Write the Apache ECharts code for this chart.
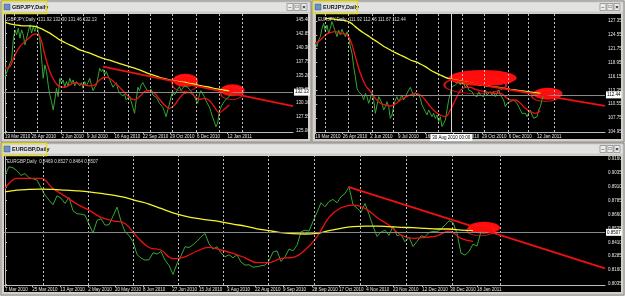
<!DOCTYPE html>
<html><head><meta charset="utf-8">
<script src="https://cdn.jsdelivr.net/npm/echarts@6/dist/echarts.min.js"></script>
<style>html,body{margin:0;padding:0;background:#d4d0c8;}#c{width:625px;height:296px;}</style>
</head><body><div id="c"></div>
<script>
// ===== GBPJPY (sample index; MAs every 3 samples) =====
const gjClose = [134.99,135.29,136.52,137.44,138.05,141.73,143.56,142.65,143.87,142.03,
143.56,142.65,140.81,142.03,143.26,144.48,142.95,144.18,143.26,144.48,
143.26,141.73,138.36,134.68,137.13,135.91,133.46,131.62,130.39,128.86,
130.70,132.84,131.31,134.68,133.76,134.37,133.03,134.07,133.27,134.68,
133.76,134.37,133.27,134.07,133.64,133.27,133.88,132.84,134.07,133.27,
133.88,134.68,133.46,132.41,133.03,133.46,134.86,136.52,135.91,136.34,
135.29,135.91,135.11,134.50,133.76,133.03,133.46,133.88,132.66,131.92,
132.23,131.43,131.80,130.70,131.00,131.43,130.39,129.35,128.25,130.70,
133.03,132.41,133.46,133.88,133.27,133.03,132.23,131.92,132.66,131.62,
131.80,131.19,130.70,130.09,130.39,129.35,128.55,127.63,128.86,129.96,
131.31,132.23,131.62,132.05,132.66,133.15,132.41,132.84,133.27,133.46,
133.03,132.66,132.41,131.92,131.31,131.00,130.09,131.62,132.41,132.17,
131.31,130.58,129.96,129.47,128.55,127.51,126.72,125.80,126.41,128.55,
129.35,129.96,130.39,130.82,130.70,131.31,131.62,132.13];
const gjFast = [136.52,136.83,138.97,140.50,141.42,142.22,142.83,142.34,138.97,135.91,
134.07,133.15,133.03,133.46,133.88,133.64,133.46,133.27,133.46,134.37,
134.86,134.68,133.88,133.03,132.05,131.19,130.70,131.31,132.23,132.41,
131.92,130.82,129.78,129.17,129.78,131.00,131.92,132.05,131.43,130.82,
131.00,130.58,129.47,128.37,128.98,129.78];
const gjSlow = [144.91,144.67,144.48,144.36,144.30,144.30,144.18,143.87,143.44,142.95,
142.34,141.73,141.24,140.81,140.38,139.89,139.58,139.28,138.91,138.54,
138.23,137.99,137.68,137.38,137.07,136.83,136.52,136.21,135.84,135.48,
135.17,134.86,134.62,134.37,134.19,134.07,133.95,133.76,133.58,133.39,
133.21,133.03,132.84,132.66,132.48,132.35];
const gjTrendX = [59, 173.4], gjTrendY = [136.83, 129.58];
const gjEllFill = [[108.6, 134.30], [137, 132.50]];
const gjEllLine = [[108.2, 133.70], [136.6, 131.95]];
const gjDates = ['19 Mar 2010','26 Apr 2010','2 Jun 2010','9 Jul 2010','16 Aug 2010','22 Sep 2010','29 Oct 2010','6 Dec 2010','12 Jan 2011'];
const gjDatePos = [0, 16, 34, 49.4, 66, 83, 99.4, 115.6, 134];
const gjGridPos = [5.4, 19.6, 33.6, 47, 60, 74, 87.4, 100.6, 115, 129, 143];
const gjTicks = [125.00,127.55,130.10,132.65,135.20,137.75,140.30,142.85,145.40];

// ===== EURJPY =====
const ejClose = [122.84,122.17,123.52,124.19,125.87,126.88,125.20,126.54,124.86,125.87,
127.22,126.21,125.20,124.19,125.53,124.53,125.67,124.86,124.19,125.20,
124.19,122.17,120.83,118.13,116.12,113.76,113.09,113.43,112.42,111.41,
112.75,112.08,110.74,111.74,113.09,111.41,108.72,110.40,112.08,111.41,
110.74,109.39,110.06,111.07,110.06,107.71,108.38,110.06,111.41,112.08,
111.07,111.74,112.42,111.41,112.08,112.42,113.43,113.96,113.09,112.08,
112.89,113.29,112.42,111.74,110.40,109.73,109.05,108.38,109.39,108.72,
108.04,108.72,107.71,108.38,107.04,108.04,106.03,106.70,107.37,109.39,
111.41,112.75,114.10,113.76,114.44,114.77,115.11,114.44,115.44,114.77,
113.96,114.44,113.43,113.76,113.09,112.42,112.75,112.08,113.09,112.42,
112.75,112.08,113.43,112.42,112.75,113.09,112.42,113.09,112.08,112.75,
113.43,112.42,112.75,111.41,110.06,110.74,110.40,111.07,110.74,111.41,
111.74,110.74,110.06,109.39,108.72,108.38,108.72,108.04,108.38,109.39,
108.38,107.71,107.37,108.04,109.39,110.06,111.41,112.44];
const ejFast = [122.84,123.52,124.53,125.00,125.20,124.86,124.73,123.52,120.15,116.79,
114.44,113.09,111.74,110.74,110.40,110.20,110.60,111.41,111.95,112.42,
112.75,112.42,111.41,110.06,109.05,108.38,108.04,109.39,111.41,113.29,
113.96,113.96,113.56,113.29,113.09,112.89,112.75,112.75,112.08,111.41,
111.41,110.74,109.73,109.05,108.72,109.25];
const ejSlowStart = 6;
const ejSlow = [127.89,127.82,127.69,127.55,127.42,127.01,126.21,125.40,124.73,124.05,
123.38,122.71,122.04,121.50,120.96,120.49,120.02,119.48,119.14,118.67,
118.13,117.46,116.92,116.45,115.98,115.65,115.44,115.24,115.04,114.84,
114.64,114.44,114.30,114.17,114.03,113.90,113.70,113.56,113.43,113.29,
113.16,113.02,112.89,112.75];
const ejTrendX = [80, 173.8], ejTrendY = [115.58, 110.20];
const ejEllFill = [[100.4, 115.85], [139.6, 112.69]];
const ejEllLine = [[96, 114.44], [138, 112.22]];
const ejDates = ['19 Mar 2010','26 Apr 2010','2 Jun 2010','9 Jul 2010','16 Aug 2010','22 Sep 2010','29 Oct 2010','6 Dec 2010','12 Jan 2011'];
const ejDatePos = [0, 16.4, 33, 49.6, 66, 83, 100, 116, 133];
const ejGridPos = [6, 20, 34, 47, 60.4, 74, 88, 101.6, 115.6, 128, 143.4];
const ejCross = 81.6, ejCrossText = '30 Aug 2010 00:00';
const ejTicks = [104.95,107.75,110.55,113.35,116.15,118.95,121.75,124.55,127.35];

// ===== EURGBP =====
const egClose = [0.9015,0.9090,0.9081,0.9054,0.9012,0.9030,0.8991,0.8982,0.8970,0.8901,
0.8835,0.8790,0.8748,0.8829,0.8808,0.8760,0.8814,0.8694,0.8667,0.8664,
0.8655,0.8574,0.8493,0.8607,0.8622,0.8565,0.8568,0.8646,0.8727,0.8601,
0.8505,0.8472,0.8415,0.8301,0.8268,0.8250,0.8253,0.8316,0.8304,0.8328,
0.8250,0.8202,0.8121,0.8217,0.8289,0.8370,0.8364,0.8388,0.8421,0.8457,
0.8490,0.8397,0.8349,0.8370,0.8316,0.8280,0.8298,0.8271,0.8298,0.8232,
0.8205,0.8208,0.8187,0.8190,0.8199,0.8205,0.8244,0.8322,0.8334,0.8238,
0.8280,0.8349,0.8334,0.8382,0.8505,0.8520,0.8511,0.8598,0.8679,
0.8766,0.8730,0.8778,0.8796,0.8766,0.8820,0.8850,0.8910,0.8748,0.8718,
0.8682,0.8760,0.8661,0.8556,0.8463,0.8502,0.8520,0.8472,0.8556,0.8469,
0.8481,0.8415,0.8457,0.8373,0.8418,0.8469,0.8460,0.8499,0.8508,0.8505,
0.8532,0.8565,0.8604,0.8589,0.8490,0.8313,0.8295,0.8328,0.8394,0.8376,
0.8507];
const egFast = [0.8895,0.8985,0.8985,0.8985,0.8895,0.8826,0.8754,0.8700,0.8634,0.8604,
0.8580,0.8460,0.8364,0.8341,0.8263,0.8280,0.8332,0.8364,0.8341,0.8311,
0.8271,0.8227,0.8227,0.8266,0.8275,0.8341,0.8460,
0.8634,0.8721,0.8745,0.8715,0.8634,0.8563,0.8476,0.8446,0.8455,0.8469,0.8511,0.8446,0.8418];
const egSlow = [0.8865,0.8880,0.8886,0.8889,0.8886,0.8880,0.8874,0.8865,0.8850,0.8835,
0.8814,0.8784,0.8754,0.8715,0.8676,0.8646,0.8625,0.8610,0.8595,0.8574,
0.8556,0.8532,0.8515,0.8497,0.8488,0.8485,0.8490,
0.8515,0.8536,0.8551,0.8556,0.8556,0.8551,0.8545,0.8542,0.8536,0.8530,0.8530,0.8520,0.8515];
const egTrendX = [85.8, 150], egTrendY = [0.8910, 0.8176];
const egEllFill = [[119.75, 0.8541]];
const egEllLine = [[118.9, 0.8517]];
const egDates = ['7 Mar 2010','25 Mar 2010','13 Apr 2010','2 May 2010','20 May 2010','8 Jun 2010','27 Jun 2010','15 Jul 2010','3 Aug 2010','22 Aug 2010','9 Sep 2010','28 Sep 2010','17 Oct 2010','4 Nov 2010','23 Nov 2010','12 Dec 2010','30 Dec 2010','18 Jan 2011'];
const egDatePos = [0, 6.8, 13.8, 20.8, 27.5, 34.5, 41.8, 48.5, 55.5, 62.5, 69.5, 76.8, 83.5, 90.3, 97, 104.3, 111.3, 118];
const egGridPos = [9.5, 20.8, 32, 43.3, 54.5, 65.8, 77.3, 88.8, 100.3, 111.8, 123.8];
const egTicks = [0.8035,0.8160,0.8285,0.8410,0.8535,0.8660,0.8785,0.8910,0.9035,0.9160];

// ===== build =====
const FONT = 'Liberation Sans';
const C_GREEN = '#33a833', C_RED = '#f01010', C_YEL = '#f4f42a', C_AX = '#bdbdbd';

const panels = [
  {close: gjClose, fast: gjFast, fastStart: 0, slow: gjSlow, slowStart: 0, tx: gjTrendX, ty: gjTrendY,
   ef: gjEllFill, el: gjEllLine, efs: [[25,13],[24,12]], els: [[25,16],[22,13]],
   dates: gjDates, datePos: gjDatePos, grid: gjGridPos, ticks: gjTicks, dec: 2,
   xmin: -0.6, xmax: 173.4, ymin: 124.82, ymax: 146.65,
   g: {left: 4, top: 13, width: 289, height: 119}},
  {close: ejClose, fast: ejFast, fastStart: 0, slow: ejSlow, slowStart: ejSlowStart, tx: ejTrendX, ty: ejTrendY,
   ef: ejEllFill, el: ejEllLine, efs: [[68,16],[29,12]], els: [[62,17],[27,11]],
   dates: ejDates, datePos: ejDatePos, grid: ejGridPos, ticks: ejTicks, dec: 2, cross: ejCross, crossText: ejCrossText,
   xmin: -0.2, xmax: 173.8, ymin: 104.95, ymax: 128.96,
   g: {left: 315, top: 13, width: 290, height: 119}},
  {close: egClose, fast: egFast, fastStart: 0, slow: egSlow, slowStart: 0, tx: egTrendX, ty: egTrendY,
   ef: egEllFill, el: egEllLine, efs: [[32,12]], els: [[27,11]],
   dates: egDates, datePos: egDatePos, grid: egGridPos, ticks: egTicks, dec: 4,
   xmin: -0.25, xmax: 150, ymin: 0.8026, ymax: 0.9196,
   g: {left: 4, top: 155, width: 601, height: 130}}
];

const grids = [], xAxes = [], yAxes = [], series = [];
panels.forEach((p, k) => {
  grids.push(Object.assign({containLabel: false}, p.g));
  xAxes.push({type: 'value', gridIndex: k, min: p.xmin, max: p.xmax,
    axisLine: {show: true, lineStyle: {color: C_AX, width: 1}},
    axisTick: {show: true, customValues: p.datePos, length: 2, lineStyle: {color: C_AX}},
    axisLabel: {show: true, customValues: p.datePos, align: 'left', margin: 2, fontSize: 4.5, fontFamily: FONT, color: '#e6e6e6',
      formatter: v => { const i = p.datePos.findIndex(d => Math.abs(d - v) < 1e-6); return i >= 0 ? p.dates[i] : ''; }},
    splitLine: {show: false}});
  yAxes.push({type: 'value', gridIndex: k, position: 'right', min: p.ymin, max: p.ymax, scale: true,
    axisLine: {show: true, lineStyle: {color: C_AX, width: 1}},
    axisTick: {show: true, customValues: p.ticks, length: 2, inside: false, lineStyle: {color: C_AX}},
    axisLabel: {show: true, customValues: p.ticks, margin: 3, fontSize: 4.5, fontFamily: FONT, color: '#e6e6e6',
      formatter: v => v.toFixed(p.dec)},
    splitLine: {show: false}});
  const last = p.close[p.close.length - 1];
  const mlData = p.grid.map(x => ({xAxis: x, lineStyle: {type: [2, 2], color: '#d4d4d4', width: 1, opacity: 0.9}, label: {show: false}}));
  mlData.push({yAxis: last, lineStyle: {type: 'solid', color: '#8a8a8a', width: 1},
    label: {show: true, position: 'end', distance: 1, formatter: last.toFixed(p.dec), backgroundColor: '#ffffff', color: '#000',
      fontSize: 4.5, fontFamily: FONT, padding: [1, 1]}});
  if (p.cross !== undefined) {
    mlData.push({xAxis: p.cross, lineStyle: {type: 'solid', color: '#d8d8d8', width: 1},
      label: {show: true, position: 'start', distance: 2, formatter: p.crossText, backgroundColor: '#ffffff', color: '#000',
        fontSize: 4.5, fontFamily: FONT, padding: [1, 2]}});
  }
  const common = {xAxisIndex: k, yAxisIndex: k, animation: false, silent: true};
  // vertical dotted separators drawn by their own empty series so they sit beneath the price lines
  series.push(Object.assign({type: 'line', z: 0, symbol: 'none', data: [],
    markLine: {symbol: 'none', silent: true, animation: false, data: mlData}}, common));
  // ellipses (under lines)
  series.push(Object.assign({type: 'scatter', z: 1, symbol: 'circle',
    data: p.ef.map((d, i) => ({value: d, symbolSize: p.efs[i]})),
    itemStyle: {color: '#ff0d0d', opacity: 1}}, common));
  series.push(Object.assign({type: 'scatter', z: 1, symbol: 'circle',
    data: p.el.map((d, i) => ({value: d, symbolSize: p.els[i]})),
    itemStyle: {color: 'rgba(0,0,0,0)', borderColor: '#ff1a1a', borderWidth: 1.2}}, common));
  series.push(Object.assign({type: 'line', z: 3, symbol: 'none', data: p.close.map((v, i) => [i, v]),
    lineStyle: {color: C_GREEN, width: 1}}, common));
  series.push(Object.assign({type: 'line', z: 4, symbol: 'none', smooth: 0.4, data: p.fast.map((v, i) => [p.fastStart + 3 * i, v]),
    lineStyle: {color: C_RED, width: 1.3}}, common));
  series.push(Object.assign({type: 'line', z: 4, symbol: 'none', smooth: 0.4, data: p.slow.map((v, i) => [p.slowStart + 3 * i, v]),
    lineStyle: {color: C_YEL, width: 1.3}}, common));
  series.push(Object.assign({type: 'line', z: 5, symbol: 'none', data: p.tx.map((x, i) => [x, p.ty[i]]),
    lineStyle: {color: C_RED, width: 1.8}}, common));
});

// window chrome
function win(x, y, w, h, title, header) {
  const els = [];
  els.push({type: 'rect', shape: {x: x, y: y, width: w, height: h}, style: {fill: '#d4d0c8', stroke: '#8c8c8c', lineWidth: 1}, z: -10});
  els.push({type: 'rect', shape: {x: x + 1, y: y + 1, width: w - 2, height: 10}, style: {fill: '#e2e2e2', stroke: '#b8b8b8', lineWidth: 0.5}, z: -9});
  els.push({type: 'rect', shape: {x: x + 3, y: y + 13, width: w - 6, height: h - 16}, style: {fill: '#000'}, z: -9});
  els.push({type: 'rect', shape: {x: x + 3, y: y + 3, width: 6, height: 6}, style: {fill: '#6d8fc7', stroke: '#2d4f87', lineWidth: 0.5}, z: -8});
  els.push({type: 'text', style: {text: title, x: x + 11, y: y + 6, fill: '#101010', font: 'bold 5.5px "' + FONT + '"', verticalAlign: 'middle'}, z: -8});
  els.push({type: 'rect', shape: {x: x + 1.5, y: y + 0.5, width: 44, height: 12}, style: {fill: 'none', stroke: '#e6df1c', lineWidth: 1.3}, z: -7});
  [0, 1, 2].forEach(i => {
    els.push({type: 'rect', shape: {x: x + w - 24 + i * 7, y: y + 2.5, width: 6, height: 7}, style: {fill: '#ececec', stroke: '#707070', lineWidth: 0.6}, z: -8});
  });
  els.push({type: 'text', style: {text: '_', x: x + w - 21, y: y + 5, fill: '#000', font: '5px "' + FONT + '"', align: 'center', verticalAlign: 'middle'}, z: -7});
  els.push({type: 'text', style: {text: '□', x: x + w - 14, y: y + 6, fill: '#000', font: '5px "' + FONT + '"', align: 'center', verticalAlign: 'middle'}, z: -7});
  els.push({type: 'text', style: {text: '×', x: x + w - 7, y: y + 6, fill: '#000', font: 'bold 6px "' + FONT + '"', align: 'center', verticalAlign: 'middle'}, z: -7});
  els.push({type: 'text', style: {text: header, x: x + 6, y: y + 16, fill: '#d8d8d8', font: '4.5px "' + FONT + '"', verticalAlign: 'top'}, z: 10});
  return els;
}
const graphic = [].concat(
  win(1, 1, 310, 141, 'GBPJPY,Daily', 'GBPJPY,Daily  131.92 132.30 131.46 132.13'),
  win(312, 1, 312, 141, 'EURJPY,Daily', 'EURJPY,Daily  111.92 112.46 111.67 112.44'),
  win(1, 143, 623, 152, 'EURGBP,Daily', 'EURGBP,Daily  0.8469 0.8527 0.8464 0.8507')
);

const chart = echarts.init(document.getElementById('c'), null, {renderer: 'canvas'});
chart.setOption({
  animation: false,
  backgroundColor: '#d4d0c8',
  grid: grids, xAxis: xAxes, yAxis: yAxes, series: series,
  graphic: {elements: graphic}
});
</script></body></html>
